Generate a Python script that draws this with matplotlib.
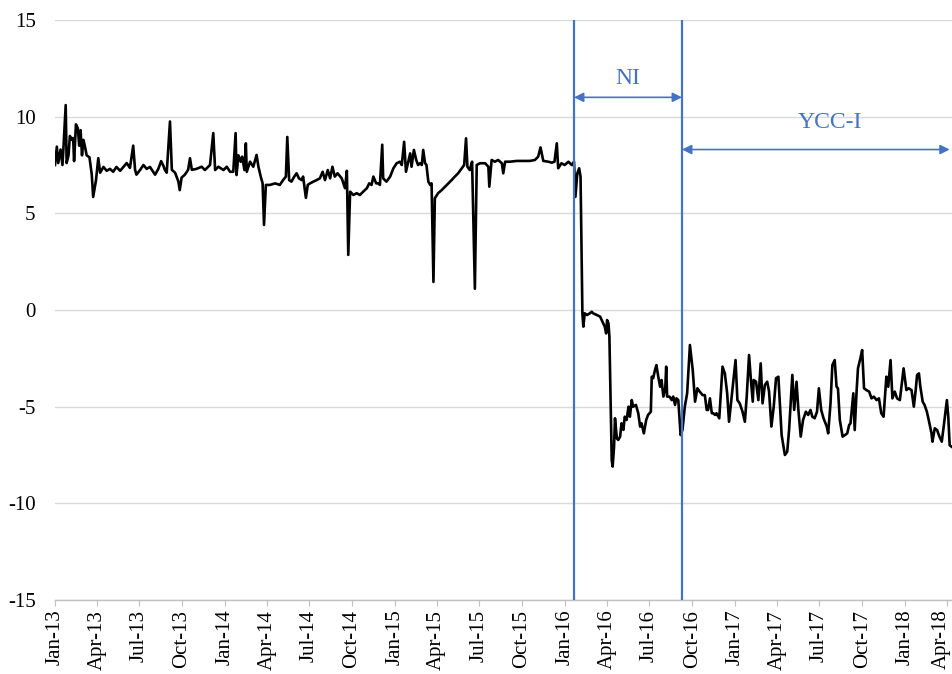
import datetime as dt

import matplotlib
matplotlib.use("Agg")
import matplotlib.pyplot as plt
import matplotlib.dates as mdates
import matplotlib.transforms as mtransforms

START = dt.date(2013, 1, 1)

# Daily observations: days elapsed since START and the spread level
day_offsets = [
    0, 4, 7, 12, 16, 18, 23, 25, 29, 32, 36, 39, 41, 45, 49, 52, 55, 58, 61, 64,
    68, 74, 79, 82, 88, 93, 97, 104, 111, 118, 125, 132, 140, 147, 154, 161, 168, 172, 175, 183,
    190, 197, 204, 211, 215, 222, 228, 233, 236, 240, 247, 251, 258, 265, 268, 272, 279, 286, 290, 294,
    304,
    315, 322, 333, 340, 344, 351, 362, 369, 376, 383, 388, 390, 394, 399, 402, 407, 410, 412, 419, 426,
    433, 437, 442, 446, 449, 453, 462, 473, 483, 490, 496, 499, 503, 508, 514, 519, 524, 530, 533, 539,
    543, 548, 555, 562, 569, 575, 580, 586, 591, 596, 601, 607, 616,
    623, 627, 630, 634, 641, 648, 655, 662, 670, 675, 680, 684, 690, 694, 698, 703, 705, 712, 720, 727,
    734, 741, 745, 750, 754, 759, 763, 766, 771, 776, 780, 784, 788, 791, 795, 798, 802, 806, 809, 813,
    816, 823, 831, 838, 845, 852, 859, 866, 874, 879, 883, 886, 891, 896, 902, 906, 913, 924, 931,
    933, 938, 945, 952, 960, 963, 967, 977, 992, 1006, 1020, 1031, 1038, 1043, 1049, 1060, 1067, 1073, 1078, 1081,
    1088, 1095, 1103, 1110, 1115, 1118, 1122, 1126, 1129,
    1133, 1135, 1138, 1143, 1149, 1153, 1156, 1164, 1171, 1176, 1181, 1184, 1186, 1189, 1191, 1196, 1198, 1201, 1203,
    1207, 1210, 1214, 1217, 1221, 1224, 1228, 1232, 1235, 1239, 1242, 1248, 1253, 1257, 1260, 1265, 1270, 1274, 1280, 1282,
    1285, 1289, 1292, 1296, 1300, 1303, 1307, 1311, 1313, 1315, 1320, 1325, 1328, 1332, 1335, 1339, 1344, 1348,
    1353, 1358, 1364, 1370, 1375, 1380, 1385, 1391, 1396, 1400, 1403, 1407, 1411, 1414, 1418, 1421, 1427, 1434, 1439, 1444,
    1448, 1456, 1462, 1466, 1471, 1477, 1482, 1486, 1491, 1495, 1499, 1501, 1506, 1511, 1516, 1520, 1525, 1530, 1534, 1539,
    1544, 1549, 1554, 1561, 1568, 1573, 1577, 1584, 1588, 1593, 1597, 1602, 1607, 1613, 1618, 1623, 1627, 1632, 1637, 1641,
    1646, 1651, 1658, 1661, 1666, 1670, 1675, 1679, 1682, 1686, 1692, 1697, 1702, 1706, 1709, 1715, 1718, 1722, 1725, 1731,
    1734, 1738, 1743, 1749, 1754, 1759, 1765, 1770, 1775, 1780, 1786, 1790, 1795, 1799, 1804, 1809, 1815, 1823, 1829, 1834,
    1840, 1845, 1849, 1852, 1856, 1859, 1864, 1868, 1873, 1877, 1883, 1885, 1890, 1895, 1900, 1905, 1910, 1916, 1919, 1922,
    1926,
]

spread = [
    7.5, 8.45, 7.6, 8.3, 7.5, 8.3, 10.6, 7.6, 8.0, 9.0, 8.8, 8.9, 7.7, 9.6, 9.4, 8.5, 9.3, 8.0, 8.8, 8.5,
    8.0, 7.9, 7.0, 5.85, 6.7, 7.85, 7.1, 7.4, 7.2, 7.3, 7.15, 7.4, 7.2, 7.4, 7.6, 7.35, 8.5, 7.25, 7.0, 7.25,
    7.5, 7.3, 7.4, 7.15, 7.0, 7.3, 7.7, 7.45, 7.25, 7.1, 9.75, 7.25, 7.1, 6.65, 6.2, 6.85, 7.0, 7.25, 7.85, 7.25,
    7.3,
    7.41, 7.24, 7.5, 9.15, 7.24, 7.41, 7.24, 7.41, 7.15, 7.15, 9.15, 6.98, 8.0, 7.67, 7.93, 7.24, 8.62, 7.15, 7.67, 7.41,
    8.02, 7.41, 6.9, 6.55, 4.4, 6.47, 6.47, 6.55, 6.47, 6.72, 6.9, 8.95, 6.72, 6.64, 6.9, 7.07, 6.81, 6.72, 6.9, 5.8,
    6.47, 6.55, 6.64, 6.72, 6.81, 7.15, 6.72, 7.24, 6.81, 7.41, 6.9, 7.07, 6.81,
    6.3, 7.2, 2.85, 6.12, 5.95, 6.04, 5.95, 6.12, 6.3, 6.55, 6.47, 6.9, 6.55, 6.55, 6.47, 8.55, 6.81, 6.64, 6.9, 7.33,
    7.59, 7.67, 7.5, 8.7, 7.15, 7.67, 8.1, 7.41, 8.28, 7.76, 7.5, 7.59, 7.5, 8.28, 7.59, 7.5, 6.64, 6.47, 6.55, 1.45,
    5.78, 6.04, 6.21, 6.38, 6.55, 6.72, 6.9, 7.07, 7.33, 7.5, 8.88, 7.41, 7.24, 7.67, 1.1, 7.5, 7.59, 7.59, 7.41,
    6.38, 7.76, 7.67, 7.76, 7.59, 7.07, 7.67, 7.67, 7.71, 7.71, 7.71, 7.76, 7.93, 8.41, 7.71, 7.67, 7.62, 7.67, 8.62, 7.33,
    7.59, 7.5, 7.67, 7.5, 7.67, 5.85, 7.07, 7.33, 6.9,
    -0.17, -0.86, -0.17, -0.26, -0.17, -0.09, -0.17, -0.26, -0.34, -0.6, -0.86, -1.21, -0.52, -0.69, -1.38, -7.76, -8.1, -7.07, -5.6,
    -6.64, -6.72, -6.55, -5.86, -6.2, -5.52, -5.69, -5.0, -5.52, -4.66, -5.0, -4.91, -5.34, -6.03, -5.86, -6.38, -5.69, -5.43, -5.26, -3.45,
    -3.53, -3.1, -2.85, -3.45, -3.97, -3.62, -4.48, -4.05, -2.93, -4.48, -4.48, -4.66, -4.48, -4.91, -4.57, -4.66, -6.47, -6.2,
    -5.0, -4.31, -1.81, -3.1, -4.74, -4.05, -4.22, -4.4, -4.4, -5.17, -5.17, -4.57, -5.34, -5.34, -5.43, -5.34, -5.6, -2.93, -3.28, -4.31,
    -5.78, -3.97, -2.59, -4.66, -4.83, -5.26, -5.78, -4.48, -2.33, -3.62, -4.74, -3.62, -3.71, -4.66, -2.76, -4.83, -3.88, -3.71, -4.22, -6.03,
    -5.0, -3.53, -3.45, -6.47, -7.5, -7.33, -6.21, -3.36, -5.17, -3.71, -5.17, -6.55, -5.69, -5.26, -5.43, -5.17, -5.52, -5.6, -5.26, -4.05,
    -5.17, -5.6, -6.03, -6.38, -4.83, -2.85, -2.59, -3.97, -4.05, -5.69, -6.55, -6.47, -6.38, -5.95, -5.86, -4.31, -6.21, -4.22, -3.02, -2.41,
    -2.07, -4.05, -4.14, -4.22, -4.57, -4.48, -4.66, -4.57, -5.34, -5.52, -3.45, -3.97, -2.59, -4.57, -4.22, -4.57, -4.66, -3.02, -4.14, -4.05,
    -4.14, -5.0, -4.14, -3.36, -3.28, -3.97, -4.74, -4.91, -5.26, -5.69, -6.38, -6.81, -6.12, -6.21, -6.55, -6.81, -5.86, -4.66, -5.52, -7.0,
    -7.07,
]

tick_labels = [
    "Jan-13", "Apr-13", "Jul-13", "Oct-13", "Jan-14", "Apr-14", "Jul-14", "Oct-14",
    "Jan-15", "Apr-15", "Jul-15", "Oct-15", "Jan-16", "Apr-16", "Jul-16", "Oct-16",
    "Jan-17", "Apr-17", "Jul-17", "Oct-17", "Jan-18", "Apr-18",
]
y_ticks = [-15, -10, -5, 0, 5, 10, 15]

# Policy regime boundaries and labels
ni_start = dt.date(2016, 1, 21)
ycc_start = dt.date(2016, 9, 9)
ycc_arrow_end = dt.date(2018, 4, 7)
regime_names = ["NI", "YCC-I"]

BLUE = "#4472C4"
plt.rcParams["font.family"] = ["Liberation Serif", "DejaVu Serif"]

dates = [START + dt.timedelta(days=d) for d in day_offsets]
tick_dates = [dt.datetime.strptime(lbl, "%b-%y").date() for lbl in tick_labels]

fig = plt.figure(figsize=(9.52, 6.74), dpi=100)
ax = fig.add_axes([55 / 952, 1 - 600 / 674, 1 - 55 / 952, 580 / 674])

ax.plot(dates, spread, color="black", lw=1.9, solid_joinstyle="round", zorder=3)

ax.set_ylim(-15, 15)
ax.set_yticks(y_ticks)
ax.set_yticklabels([str(v) for v in y_ticks])
ax.set_xlim(START, START + dt.timedelta(days=1927))
ax.set_xticks(tick_dates)
ax.set_xticklabels(tick_labels, rotation=90)

ax.grid(axis="y", color="#D9D9D9", lw=1.0, zorder=0)
ax.set_axisbelow(True)
for side in ("left", "right", "top"):
    ax.spines[side].set_visible(False)
ax.spines["bottom"].set_color("#BFBFBF")
ax.spines["bottom"].set_linewidth(1.0)

ax.tick_params(axis="y", length=0, labelsize=15, pad=14)
ax.tick_params(axis="x", direction="out", length=4, color="#BFBFBF", labelsize=15, pad=3)

# Keep the last date label inside the canvas
last_label = ax.get_xticklabels()[-1]
last_label.set_transform(last_label.get_transform()
                         + mtransforms.ScaledTranslation(-6 / 100, 0, fig.dpi_scale_trans))

# Regime markers
for d in (ni_start, ycc_start):
    ax.axvline(d, color=BLUE, lw=1.6, zorder=4)

arrow_kw = dict(arrowstyle="<|-|>", color=BLUE, lw=1.2, mutation_scale=14, shrinkA=0, shrinkB=0)
ax.annotate("", xy=(ni_start, 11.0), xytext=(ycc_start, 11.0), arrowprops=arrow_kw, zorder=5)
ax.annotate("", xy=(ycc_start, 8.3), xytext=(ycc_arrow_end, 8.3), arrowprops=arrow_kw,
            annotation_clip=False, zorder=5)

ni_mid = mdates.num2date((mdates.date2num(ni_start) + mdates.date2num(ycc_start)) / 2)
ax.text(ni_mid, 12.0, regime_names[0], ha="center", va="center", fontsize=17, color=BLUE)
ax.text(dt.date(2017, 7, 23), 9.7, regime_names[1], ha="center", va="center", fontsize=17, color=BLUE)

fig.savefig("out.png", dpi=100)
